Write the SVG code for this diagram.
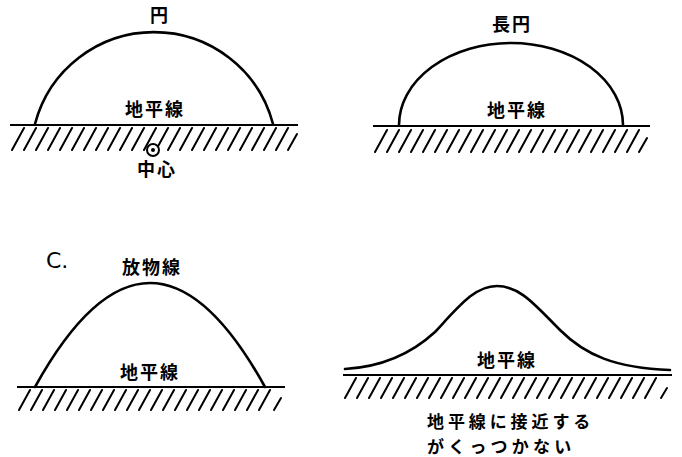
<svg xmlns="http://www.w3.org/2000/svg" width="682" height="457" viewBox="0 0 682 457">
<style>
.t{font-family:"Noto Sans CJK JP","Noto Sans CJK SC",sans-serif;font-size:18px;font-weight:bold;letter-spacing:2px;fill:#000}
.c{fill:none;stroke:#000;stroke-width:2.6;stroke-linecap:round}
.g{fill:none;stroke:#000;stroke-width:2.2}
.h{fill:none;stroke:#000;stroke-width:2;stroke-linecap:round}
</style>
<rect width="682" height="457" fill="#fff"/>
<g id="circle-panel">
  <path class="h" d="M12,150l12,-22M24,150l12,-22M36,150l12,-22M48,150l12,-22M60,150l12,-22M72,150l12,-22M84,150l12,-22M96,150l12,-22M108,150l12,-22M120,150l12,-22M132,150l12,-22M144,150l12,-22M156,150l12,-22M168,150l12,-22M180,150l12,-22M192,150l12,-22M204,150l12,-22M216,150l12,-22M228,150l12,-22M240,150l12,-22M252,150l12,-22M264,150l12,-22M276,150l12,-22M288,150l9,-16"/>
  <line class="g" x1="10" y1="125" x2="298" y2="125"/>
  <path class="c" d="M35,124 A123,123 0 0 1 273,124"/>
  <circle cx="153" cy="150" r="6" fill="#fff" stroke="#000" stroke-width="2"/>
  <circle cx="153" cy="150" r="2" fill="#000"/>
  <text class="t" x="150" y="22">円</text>
  <text class="t" x="125" y="116">地平線</text>
  <text class="t" x="137" y="176">中心</text>
</g>
<g id="ellipse-panel">
  <path class="h" d="M375,152l12,-22M387,152l12,-22M399,152l12,-22M411,152l12,-22M423,152l12,-22M435,152l12,-22M447,152l12,-22M459,152l12,-22M471,152l12,-22M483,152l12,-22M495,152l12,-22M507,152l12,-22M519,152l12,-22M531,152l12,-22M543,152l12,-22M555,152l12,-22M567,152l12,-22M579,152l12,-22M591,152l12,-22M603,152l12,-22M615,152l12,-22M627,152l12,-22M639,152l8,-14"/>
  <line class="g" x1="373" y1="126" x2="650" y2="126"/>
  <path class="c" d="M399,125 A112,82 0 0 1 623,125"/>
  <text class="t" x="492" y="31">長円</text>
  <text class="t" x="487" y="117">地平線</text>
</g>
<g id="parabola-panel">
  <path class="h" d="M19,410l11,-20M31,410l11,-20M43,410l11,-20M55,410l11,-20M67,410l11,-20M79,410l11,-20M91,410l11,-20M103,410l11,-20M115,410l11,-20M127,410l11,-20M139,410l11,-20M151,410l11,-20M163,410l11,-20M175,410l11,-20M187,410l11,-20M199,410l11,-20M211,410l11,-20M223,410l11,-20M235,410l11,-20M247,410l11,-20M259,410l11,-20M274,410l7,-12"/>
  <line class="g" x1="17" y1="387" x2="285" y2="387"/>
  <path class="c" d="M35,387 Q150,179 265,387"/>
  <text x="46" y="268" style="font-family:'DejaVu Sans',sans-serif;font-size:22px;font-weight:normal;fill:#000">C.</text>
  <text class="t" x="122" y="274">放物線</text>
  <text class="t" x="120" y="379">地平線</text>
</g>
<g id="asymptote-panel">
  <path class="h" d="M345,398l11,-20M357,398l11,-20M369,398l11,-20M381,398l11,-20M393,398l11,-20M405,398l11,-20M417,398l11,-20M429,398l11,-20M441,398l11,-20M453,398l11,-20M465,398l11,-20M477,398l11,-20M489,398l11,-20M501,398l11,-20M513,398l11,-20M525,398l11,-20M537,398l11,-20M549,398l11,-20M561,398l11,-20M573,398l11,-20M585,398l11,-20M597,398l11,-20M609,398l11,-20M621,398l11,-20M633,398l11,-20M645,398l11,-20M661,398l6,-10"/>
  <line class="g" x1="343" y1="375" x2="672" y2="375"/>
  <path class="c" d="M345,369 C380,367 410,355 435,332 C460,305 475,286 497,286 C520,286 535,305 560,330 C585,355 615,368 670,370"/>
  <text class="t" x="477" y="367">地平線</text>
  <text class="t" x="427" y="428" style="font-size:17px;letter-spacing:3.9px">地平線に接近する</text>
  <text class="t" x="427" y="453" style="font-size:17px;letter-spacing:4.2px">がくっつかない</text>
</g>
</svg>
